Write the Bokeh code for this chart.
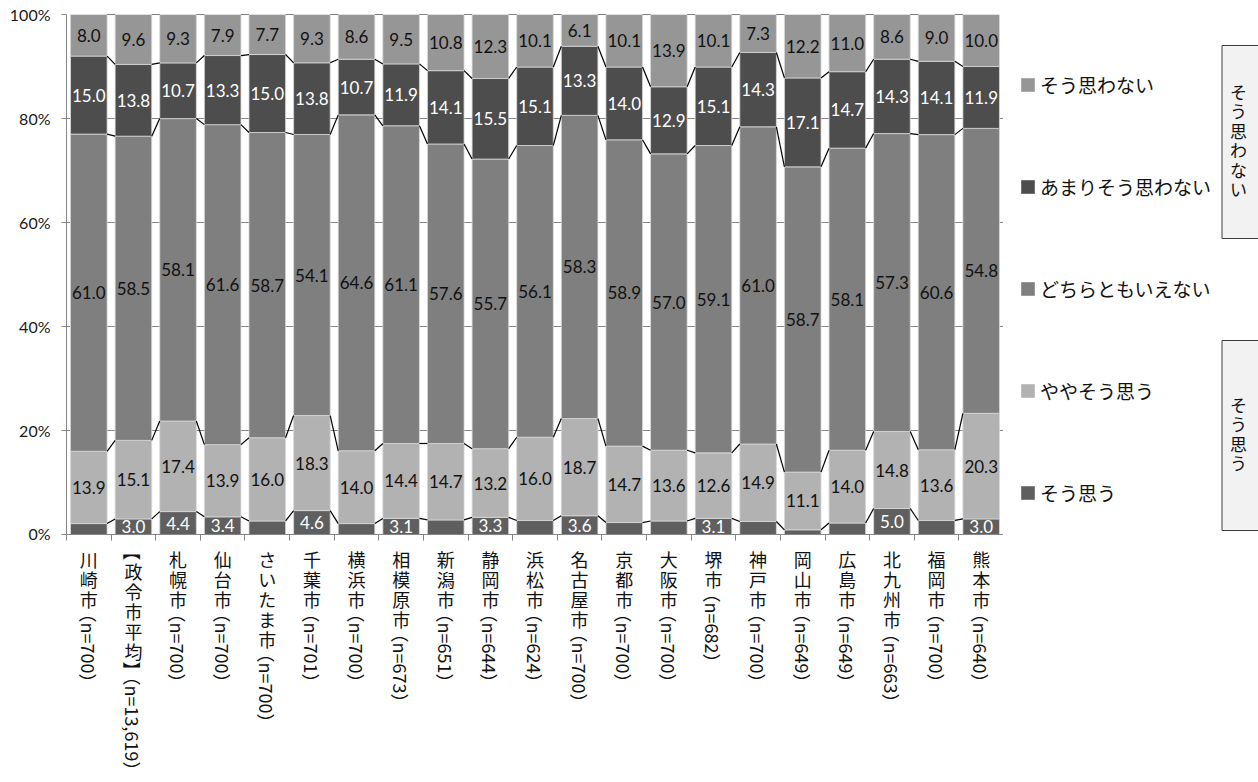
import math
from bokeh.plotting import figure
from bokeh.models import (Range1d, FixedTicker, PrintfTickFormatter,
                          ColumnDataSource, Legend, LegendItem)
from bokeh.layouts import row, column
from bokeh.core.properties import value
from bokeh.embed import file_html
from bokeh.resources import INLINE

# ---------------- data ----------------
cities = ["川崎市", "【政令市平均】", "札幌市", "仙台市", "さいたま市", "千葉市", "横浜市", "相模原市",
          "新潟市", "静岡市", "浜松市", "名古屋市", "京都市", "大阪市", "堺市", "神戸市", "岡山市",
          "広島市", "北九州市", "福岡市", "熊本市"]
n_sizes = ["700", "13,619", "700", "700", "700", "701", "700", "673", "651", "644", "624", "700",
           "700", "700", "682", "700", "649", "649", "663", "700", "640"]

series_names = ["そう思う", "ややそう思う", "どちらともいえない", "あまりそう思わない", "そう思わない"]
sou_omou = [2.1, 3.0, 4.4, 3.4, 2.6, 4.6, 2.1, 3.1, 2.8, 3.3, 2.7, 3.6, 2.3, 2.6, 3.1, 2.5, 0.9, 2.2, 5.0, 2.7, 3.0]
yaya = [13.9, 15.1, 17.4, 13.9, 16.0, 18.3, 14.0, 14.4, 14.7, 13.2, 16.0, 18.7, 14.7, 13.6, 12.6, 14.9, 11.1, 14.0, 14.8, 13.6, 20.3]
dochira = [61.0, 58.5, 58.1, 61.6, 58.7, 54.1, 64.6, 61.1, 57.6, 55.7, 56.1, 58.3, 58.9, 57.0, 59.1, 61.0, 58.7, 58.1, 57.3, 60.6, 54.8]
amari = [15.0, 13.8, 10.7, 13.3, 15.0, 13.8, 10.7, 11.9, 14.1, 15.5, 15.1, 13.3, 14.0, 12.9, 15.1, 14.3, 17.1, 14.7, 14.3, 14.1, 11.9]
omowanai = [8.0, 9.6, 9.3, 7.9, 7.7, 9.3, 8.6, 9.5, 10.8, 12.3, 10.1, 6.1, 10.1, 13.9, 10.1, 7.3, 12.2, 11.0, 8.6, 9.0, 10.0]

side_labels = ["そう思わない", "そう思う"]
y_ticks = [0, 20, 40, 60, 80, 100]

# ---------------- styles / layout ----------------
fill_colors = ["#5f5f5f", "#b2b2b2", "#7f7f7f", "#4d4d4d", "#969696"]
label_colors = ["#ffffff", "#111111", "#111111", "#ffffff", "#111111"]
axis_gray = "#868686"
NUM_FONT = "Lato"
JP_FONT = "Noto Sans CJK JP"

FRAME_L, FRAME_R, FRAME_T, FRAME_B = 66, 1003, 14, 534
TOP_H = 542            # height of chart row (frame + x tick marks)
TOTAL_W, TOTAL_H = 1258, 780

ncat = len(cities)
cats = [f"{c}（n={n}）" for c, n in zip(cities, n_sizes)]
xpos = [i + 0.5 for i in range(ncat)]          # slot centres on the numeric x scale
series = [sou_omou, yaya, dochira, amari, omowanai]
keys = [f"s{i}" for i in range(len(series))]

# normalise each bar to 100 % (100 % stacked chart)
totals = [sum(vals) for vals in zip(*series)]
norm = [[v / t * 100 for v, t in zip(s, totals)] for s in series]

data = {"x": xpos, "city": cats}
for k, s in zip(keys, norm):
    data[k] = s
src = ColumnDataSource(data)

# ---------------- main figure ----------------
xr = Range1d(0, ncat)
p = figure(width=FRAME_R, height=TOP_H, x_range=xr, y_range=Range1d(0, 100),
           toolbar_location=None, output_backend="svg", min_border_left=FRAME_L, min_border_right=0,
           min_border_top=FRAME_T, min_border_bottom=TOP_H - FRAME_B, outline_line_color=None,
           title=None)

p.yaxis.ticker = FixedTicker(ticks=y_ticks)
p.yaxis.formatter = PrintfTickFormatter(format="%d%%")
p.yaxis.major_label_text_font = NUM_FONT
p.yaxis.major_label_text_font_size = "16px"
p.yaxis.major_label_text_color = "#1a1a1a"
p.yaxis.axis_line_color = axis_gray
p.yaxis.major_tick_line_color = axis_gray
p.yaxis.major_tick_out = 5
p.yaxis.major_tick_in = 0
p.yaxis.minor_tick_line_color = None
p.yaxis.major_label_standoff = 11
p.ygrid.ticker = FixedTicker(ticks=y_ticks)
p.ygrid.grid_line_color = axis_gray
p.xgrid.visible = False

# x axis: tick marks on the boundaries between categories, labels drawn below
p.xaxis.ticker = FixedTicker(ticks=list(range(ncat + 1)))
p.xaxis.major_tick_in = 0
p.xaxis.major_tick_out = 6
p.xaxis.minor_tick_line_color = None
p.xaxis.axis_line_color = axis_gray
p.xaxis.major_tick_line_color = axis_gray
p.xaxis.major_label_text_font_size = "1px"
p.xaxis.major_label_text_alpha = 0
p.xaxis.major_label_standoff = 0

# bars
p.vbar_stack(keys, x="x", width=0.82, fill_color=fill_colors, line_color="#d8d8d8",
             line_width=0.8, source=src)

# series lines (connectors)
bw = 0.41
sx0, sy0, sx1, sy1 = [], [], [], []
cum = [0.0] * ncat
for s in norm:
    cum = [c + v for c, v in zip(cum, s)]
    for i in range(ncat - 1):
        sx0.append(xpos[i] + bw)
        sy0.append(cum[i])
        sx1.append(xpos[i + 1] - bw)
        sy1.append(cum[i + 1])
p.segment(x0=sx0, y0=sy0, x1=sx1, y1=sy1, line_color="black", line_width=1.2)

# value labels
lx, ly, lt, lc = [], [], [], []
cum = [0.0] * ncat
for si, (raw, s) in enumerate(zip(series, norm)):
    for i in range(ncat):
        if raw[i] >= 3.0:
            lx.append(xpos[i])
            ly.append(cum[i] + s[i] / 2)
            lt.append(f"{raw[i]:.1f}")
            lc.append(label_colors[si])
    cum = [c + v for c, v in zip(cum, s)]
p.text(x=lx, y=ly, text=lt, text_color=lc, text_font=value(NUM_FONT), text_font_size="17px",
       text_align="center", text_baseline="middle")

# ---------------- category label strip (vertical writing) ----------------
p3 = figure(width=FRAME_R, height=TOTAL_H - TOP_H, x_range=xr,
            y_range=Range1d(-TOTAL_H, -TOP_H), x_axis_location=None, y_axis_location=None,
            toolbar_location=None, output_backend="svg", min_border_left=FRAME_L,
            min_border_right=0, min_border_top=0, min_border_bottom=0,
            outline_line_color=None, title=None)
p3.grid.visible = False

up = dict(x=[], y=[], t=[])
rot = dict(x=[], y=[], t=[])
for xc, city, n in zip(xpos, cities, n_sizes):
    pos = FRAME_B + 15
    for ch in city:
        if ch == "【":
            rot["x"].append(xc); rot["y"].append(-(pos - 7)); rot["t"].append(ch)
            pos += 12
        elif ch == "】":
            rot["x"].append(xc); rot["y"].append(-pos); rot["t"].append(ch)
            pos += 11
        else:
            up["x"].append(xc); up["y"].append(-(pos + 9)); up["t"].append(ch)
            pos += 20
    rot["x"].append(xc); rot["y"].append(-(pos - 5)); rot["t"].append(f"（n={n}）")

p3.text(x="x", y="y", text="t", source=ColumnDataSource(up), text_font=value(JP_FONT),
        text_font_size="18px", text_color="#111111", text_align="center", text_baseline="middle")
p3.text(x="x", y="y", text="t", source=ColumnDataSource(rot), angle=-math.pi / 2,
        text_font=value(JP_FONT), text_font_size="18px", text_color="#111111",
        text_align="left", text_baseline="middle")

# ---------------- side panel (legend + group boxes) ----------------
p2 = figure(width=TOTAL_W - FRAME_R, height=TOP_H, x_range=Range1d(FRAME_R, TOTAL_W),
            y_range=Range1d(-FRAME_B, -FRAME_T), x_axis_location=None, y_axis_location=None,
            toolbar_location=None, output_backend="svg", min_border_left=0, min_border_right=0,
            min_border_top=FRAME_T, min_border_bottom=TOP_H - FRAME_B, outline_line_color=None,
            title=None)
p2.grid.visible = False

box_top = [45, 340]
box_bottom = [238, 530]
p2.quad(left=[1221.5] * 2, right=[1275] * 2, top=[-t for t in box_top],
        bottom=[-b for b in box_bottom], fill_color="#f2f2f2", line_color="#3c3c3c", line_width=1)
bx, by, bt = [], [], []
for lab, t, b in zip(side_labels, box_top, box_bottom):
    c = (t + b) / 2 - 2
    n = len(lab)
    for k, ch in enumerate(lab):
        bx.append(1238)
        by.append(-(c + (k - (n - 1) / 2) * 19.5))
        bt.append(ch)
p2.text(x=bx, y=by, text=bt, text_font=value(JP_FONT), text_font_size="17px",
        text_color="#111111", text_align="center", text_baseline="middle")

items = []
for name, col in reversed(list(zip(series_names, fill_colors))):
    r = p2.vbar(x=[FRAME_R], top=[-FRAME_T], bottom=[-FRAME_T], width=0, fill_color=col,
                line_color=None)
    items.append(LegendItem(label=name, renderers=[r]))
legend = Legend(items=items, location=(16, FRAME_B - 506), orientation="vertical",
                label_text_font=JP_FONT, label_text_font_size="19px", label_text_color="#111111",
                glyph_width=17, glyph_height=17, label_height=28, spacing=74, padding=0, margin=0,
                label_standoff=4, border_line_color=None, background_fill_alpha=0)
p2.add_layout(legend)

layout = column(row(p, p2), p3)
open("out.html", "w").write(file_html(layout, INLINE))
